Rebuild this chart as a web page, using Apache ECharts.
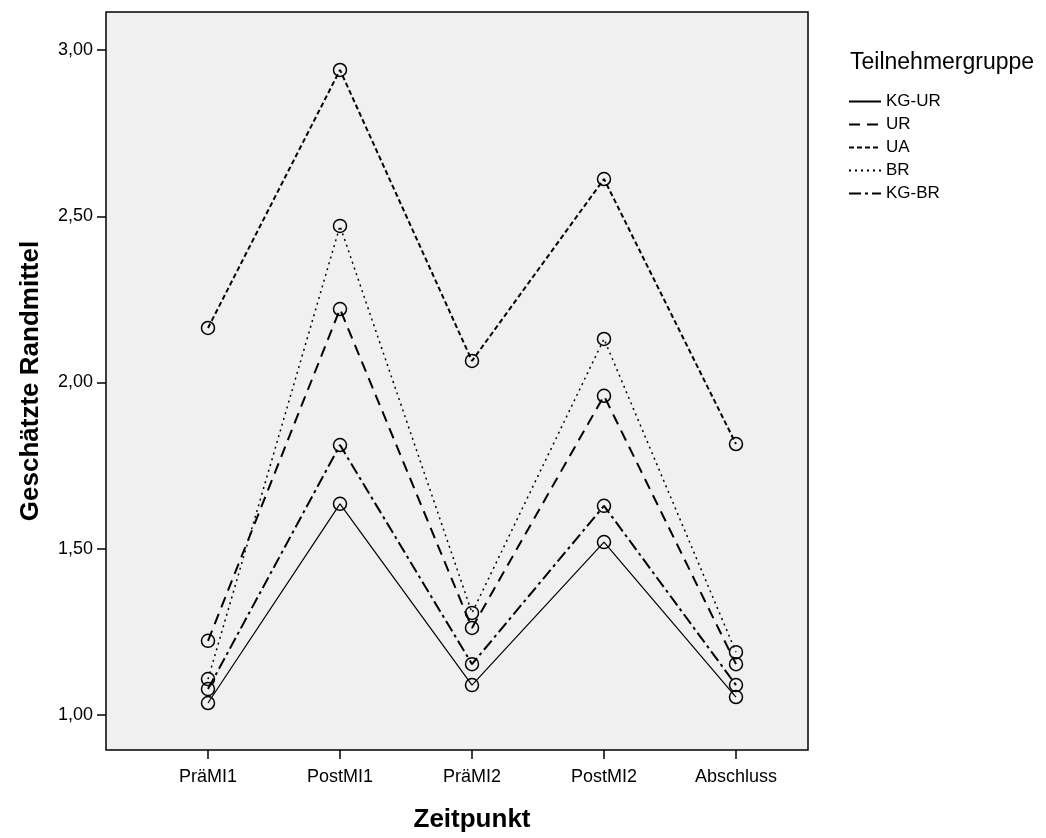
<!DOCTYPE html>
<html>
<head>
<meta charset="utf-8">
<script src="https://cdn.jsdelivr.net/npm/echarts@6/dist/echarts.min.js"></script>
<style>
html,body{margin:0;padding:0;background:#fff;}
#c{width:1046px;height:838px;}
</style>
</head>
<body>
<div id="c"></div>
<script>
var categories = ['PräMI1', 'PostMI1', 'PräMI2', 'PostMI2', 'Abschluss'];
var groupNames = ['KG-UR', 'UR', 'UA', 'BR', 'KG-BR'];
var kgUR = [1.036, 1.635, 1.090, 1.520, 1.054];
var ur   = [1.223, 2.221, 1.262, 1.960, 1.153];
var ua   = [2.164, 2.940, 2.065, 2.612, 1.815];
var br   = [1.108, 2.471, 1.307, 2.131, 1.189];
var kgBR = [1.078, 1.812, 1.153, 1.629, 1.090];
var yTicks = [1.0, 1.5, 2.0, 2.5, 3.0];
var xTicks = [0, 1, 2, 3, 4];

var FONT = 'Liberation Sans, Arial, sans-serif';
var seriesValues = [kgUR, ur, ua, br, kgBR];
var dashTypes = ['solid', [11, 7], [5, 3], [2, 4], [12, 4, 3, 4]];
var widths = [1.2, 2, 2, 1.5, 2];

function toPairs(arr) { return arr.map(function (v, i) { return [i, v]; }); }

var series = groupNames.map(function (n, k) {
  return {
    name: n,
    type: 'line',
    data: toPairs(seriesValues[k]),
    symbol: 'circle',
    symbolSize: 13,
    itemStyle: { color: 'rgba(0,0,0,0)', borderColor: '#000', borderWidth: 1.5 },
    lineStyle: { color: '#000', width: widths[k], type: dashTypes[k] },
    emphasis: { disabled: true },
    silent: true
  };
});

var chart = echarts.init(document.getElementById('c'), null, { renderer: 'canvas' });
chart.setOption({
  animation: false,
  backgroundColor: '#fff',
  textStyle: { fontFamily: FONT, color: '#000' },
  title: {
    text: 'Teilnehmergruppe',
    left: 845, top: 46,
    textStyle: { fontFamily: FONT, fontSize: 23, fontWeight: 'normal', color: '#000' }
  },
  legend: {
    orient: 'vertical',
    left: 843, top: 88,
    itemWidth: 32, itemHeight: 12, itemGap: 6,
    textStyle: { fontFamily: FONT, fontSize: 17, color: '#000' },
    itemStyle: { opacity: 0 },
    selectedMode: false,
    data: groupNames
  },
  grid: {
    left: 106, top: 12, right: 238, bottom: 88,
    show: true, backgroundColor: '#f0f0f0', borderColor: '#000', borderWidth: 1.5,
    outerBoundsMode: 'none'
  },
  xAxis: {
    type: 'value',
    min: -0.7727, max: 4.5455,
    splitLine: { show: false },
    axisLine: { show: false, onZero: false },
    axisTick: { show: true, customValues: xTicks, length: 9, lineStyle: { color: '#000', width: 1.5 } },
    axisLabel: {
      customValues: xTicks, margin: 18, fontSize: 18, color: '#000', fontFamily: FONT,
      formatter: function (v) { return categories[Math.round(v)]; }
    },
    name: 'Zeitpunkt',
    nameLocation: 'middle',
    nameGap: 57,
    nameTextStyle: { fontFamily: FONT, fontSize: 26, fontWeight: 'bold', color: '#000', padding: [0, 0, 0, 30] }
  },
  yAxis: {
    type: 'value',
    min: 1 - 35 / 332.5, max: 1 + 703 / 332.5,
    splitLine: { show: false },
    axisLine: { show: false, onZero: false },
    axisTick: { show: true, customValues: yTicks, length: 9, lineStyle: { color: '#000', width: 1.5 } },
    axisLabel: {
      customValues: yTicks, margin: 13, fontSize: 18, color: '#000', fontFamily: FONT,
      formatter: function (v) { return v.toFixed(2).replace('.', ','); }
    },
    name: 'Geschätzte Randmittel',
    nameLocation: 'middle',
    nameGap: 62,
    nameTextStyle: { fontFamily: FONT, fontSize: 26, fontWeight: 'bold', color: '#000' }
  },
  series: series
});
</script>
</body>
</html>
